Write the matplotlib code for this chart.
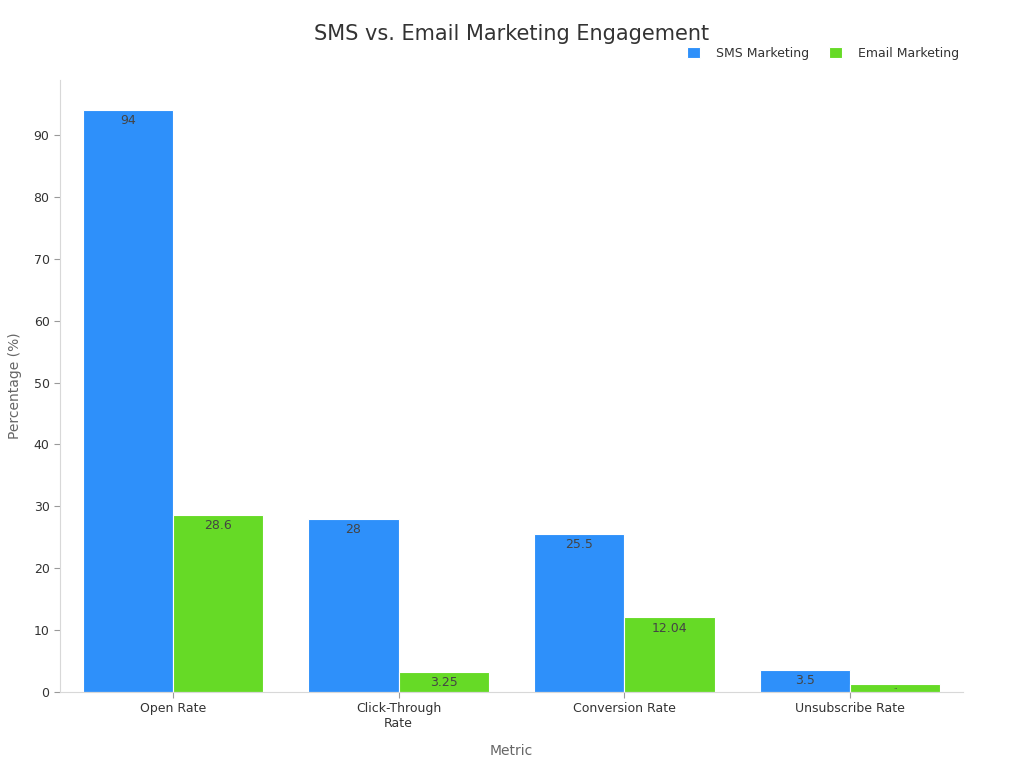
import matplotlib.pyplot as plt
import numpy as np

categories = ["Open Rate", "Click-Through\nRate", "Conversion Rate", "Unsubscribe Rate"]
sms_values = [94, 28, 25.5, 3.5]
email_values = [28.6, 3.25, 12.04, 1.3]
sms_labels = ["94", "28", "25.5", "3.5"]
email_labels = ["28.6", "3.25", "12.04", ".."]

sms_color = "#2E90FA"
email_color = "#66DA26"

fig = plt.figure(figsize=(10.24, 7.68), dpi=100)
ax = fig.add_axes([0.0586, 0.099, 0.8818, 0.797])

x = np.arange(len(categories))
w = 0.4
bars_sms = ax.bar(x - w / 2, sms_values, w, color=sms_color, edgecolor="white",
                  linewidth=0.8, label="SMS Marketing")
bars_email = ax.bar(x + w / 2, email_values, w, color=email_color, edgecolor="white",
                    linewidth=0.8, label="Email Marketing")

# value labels just inside the top of each bar (tiny one for the short bar)
for bars, labels in [(bars_sms, sms_labels), (bars_email, email_labels)]:
    for b, lab in zip(bars, labels):
        h = b.get_height()
        small = h < 2
        ax.annotate(lab, (b.get_x() + b.get_width() / 2, h),
                    xytext=(0, 0 if small else -3), textcoords="offset points",
                    ha="center", va="top", fontsize=5 if small else 9,
                    color="#444444")

ax.set_xlim(-0.5, 3.5)
ax.set_ylim(0, 98.9)
ax.set_yticks(np.arange(0, 100, 10))
ax.set_xticks(x)
ax.set_xticklabels(categories)
ax.tick_params(axis="both", labelsize=9, colors="#333333", length=4, width=0.8)
ax.tick_params(axis="both", color="#999999")

for s in ["top", "right"]:
    ax.spines[s].set_visible(False)
for s in ["left", "bottom"]:
    ax.spines[s].set_color("#d8d8d8")

ax.set_xlabel("Metric", fontsize=10, color="#666666", labelpad=10)
ax.set_ylabel("Percentage (%)", fontsize=10, color="#666666", labelpad=8)

fig.suptitle("SMS vs. Email Marketing Engagement", fontsize=15, color="#333333",
             x=0.5, y=0.969)

leg = ax.legend(loc="upper right", bbox_to_anchor=(1.008, 1.072), ncol=2,
                frameon=False, fontsize=9, handlelength=1.0, handleheight=1.0,
                columnspacing=1.6, handletextpad=1.3)
for t in leg.get_texts():
    t.set_color("#333333")

fig.savefig("out.png", dpi=100)
